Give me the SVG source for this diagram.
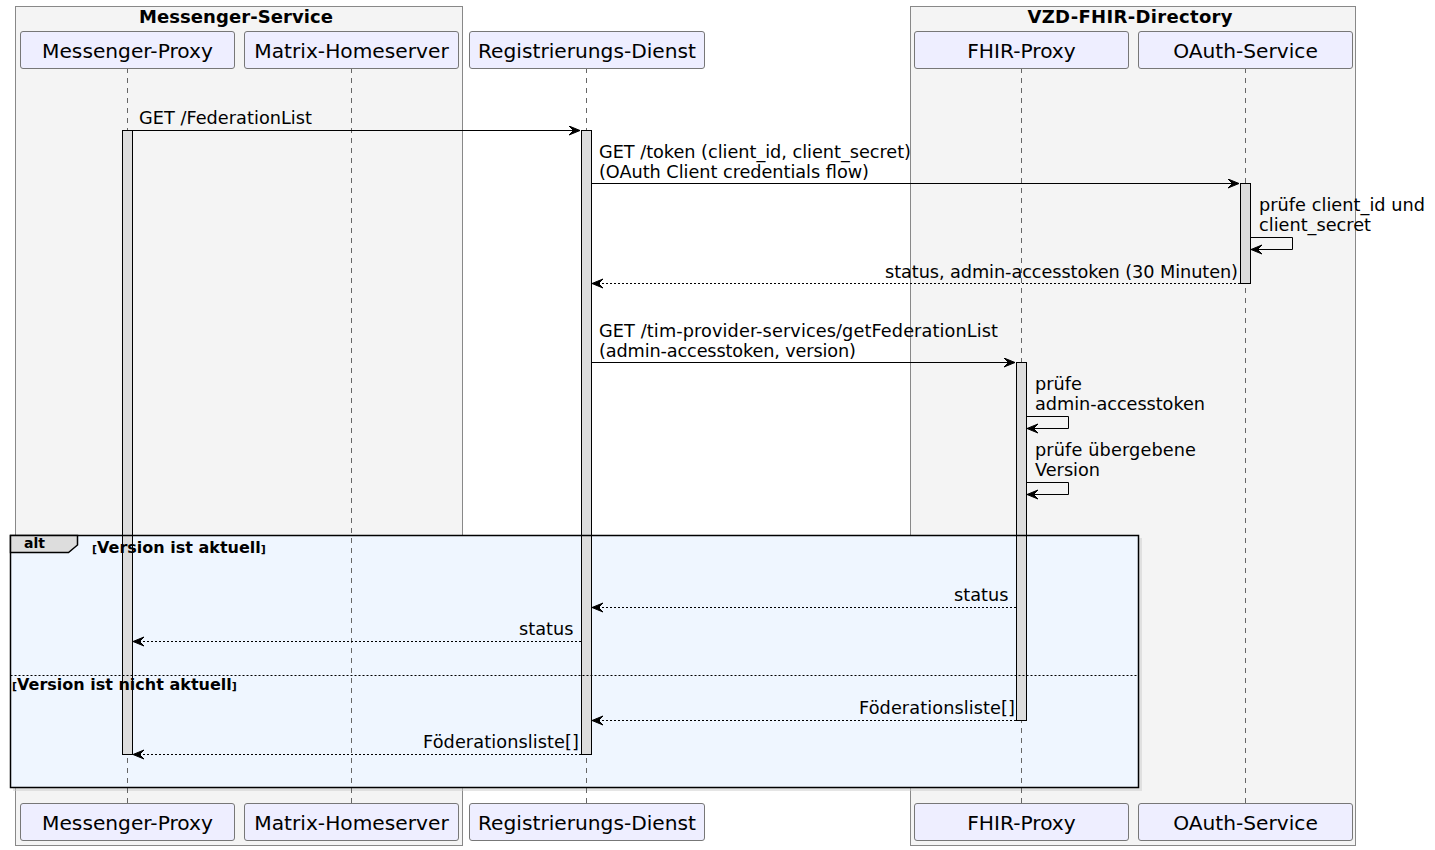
<svg xmlns="http://www.w3.org/2000/svg" width="1435" height="850" viewBox="0 0 1435 850">
<style>
.grp{fill:#F4F4F4;stroke:#888888;stroke-width:1}
.gt{font-family:"DejaVu Sans",sans-serif;font-size:18px;font-weight:bold;fill:#000;text-anchor:middle}
.pb{fill:#EEEEFF;stroke:#777777;stroke-width:1}
.pt{font-family:"DejaVu Sans",sans-serif;font-size:20.2px;fill:#000;text-anchor:middle}
.life{stroke:#666;stroke-width:1;stroke-dasharray:5,5;fill:none}
.act{fill:#DDDDDD;stroke:#000;stroke-width:1}
.msg{stroke:#000;stroke-width:1;fill:none}
.ret{stroke:#000;stroke-width:1;fill:none;stroke-dasharray:2,2}
.mt{font-family:"DejaVu Sans",sans-serif;font-size:17.7px;fill:#000}
.ft{font-family:"DejaVu Sans",sans-serif;font-weight:bold;fill:#000}
</style>
<defs>
<marker id="ah" markerUnits="userSpaceOnUse" markerWidth="13" markerHeight="11" refX="11" refY="5" orient="auto" viewBox="0 0 13 11">
<path d="M0,0.5 L11,5 L0,9.5 L4.5,5 Z" fill="#000" stroke="#000" stroke-width="1"/>
</marker>
</defs>

<g id="box-messenger-service">
<rect class="grp" x="15.5" y="6.5" width="447" height="839"/>
<text class="gt" x="236" y="23" textLength="194">Messenger-Service</text>
</g>
<g id="box-vzd-fhir-directory">
<rect class="grp" x="910.5" y="6.5" width="445" height="839"/>
<text class="gt" x="1130" y="23" textLength="205">VZD-FHIR-Directory</text>
</g>

<g id="alt-bg">
<rect x="13" y="538" width="1129" height="253" fill="#CCCCCC" opacity="0.5"/>
<rect x="10" y="535" width="1129" height="253" fill="#EFF6FF"/>
</g>

<g id="lifelines">
<line class="life" x1="127.5" y1="68" x2="127.5" y2="803"/>
<line class="life" x1="351.5" y1="68" x2="351.5" y2="803"/>
<line class="life" x1="586.5" y1="68" x2="586.5" y2="803"/>
<line class="life" x1="1021.5" y1="68" x2="1021.5" y2="803"/>
<line class="life" x1="1245.5" y1="68" x2="1245.5" y2="803"/>
</g>

<g id="p-messenger-proxy">
<rect class="pb" x="20.5" y="31.5" width="214" height="37" rx="2.5"/>
<text class="pt" x="127.5" y="58">Messenger-Proxy</text>
<rect class="pb" x="20.5" y="803.5" width="214" height="37" rx="2.5"/>
<text class="pt" x="127.5" y="830">Messenger-Proxy</text>
</g>
<g id="p-matrix-homeserver">
<rect class="pb" x="244.5" y="31.5" width="214" height="37" rx="2.5"/>
<text class="pt" x="351.5" y="58">Matrix-Homeserver</text>
<rect class="pb" x="244.5" y="803.5" width="214" height="37" rx="2.5"/>
<text class="pt" x="351.5" y="830">Matrix-Homeserver</text>
</g>
<g id="p-registrierungs-dienst">
<rect class="pb" x="469.5" y="31.5" width="235" height="37" rx="2.5"/>
<text class="pt" x="587" y="58">Registrierungs-Dienst</text>
<rect class="pb" x="469.5" y="803.5" width="235" height="37" rx="2.5"/>
<text class="pt" x="587" y="830">Registrierungs-Dienst</text>
</g>
<g id="p-fhir-proxy">
<rect class="pb" x="914.5" y="31.5" width="214" height="37" rx="2.5"/>
<text class="pt" x="1021.5" y="58">FHIR-Proxy</text>
<rect class="pb" x="914.5" y="803.5" width="214" height="37" rx="2.5"/>
<text class="pt" x="1021.5" y="830">FHIR-Proxy</text>
</g>
<g id="p-oauth-service">
<rect class="pb" x="1138.5" y="31.5" width="214" height="37" rx="2.5"/>
<text class="pt" x="1245.5" y="58">OAuth-Service</text>
<rect class="pb" x="1138.5" y="803.5" width="214" height="37" rx="2.5"/>
<text class="pt" x="1245.5" y="830">OAuth-Service</text>
</g>

<g id="activations">
<rect class="act" x="122.5" y="130.5" width="10" height="624"/>
<rect class="act" x="581.5" y="130.5" width="10" height="624"/>
<rect class="act" x="1240.5" y="183.5" width="10" height="100"/>
<rect class="act" x="1016.5" y="362.5" width="10" height="358"/>
</g>

<g id="connectors">
<line class="msg" x1="132" y1="130.5" x2="580" y2="130.5" marker-end="url(#ah)"/>
<line class="msg" x1="592" y1="183.5" x2="1239" y2="183.5" marker-end="url(#ah)"/>
<polyline class="msg" points="1251,237.5 1292.5,237.5 1292.5,249.5 1251,249.5" marker-end="url(#ah)"/>
<line class="ret" x1="1240" y1="283.5" x2="592" y2="283.5" marker-end="url(#ah)"/>
<line class="msg" x1="592" y1="362.5" x2="1015" y2="362.5" marker-end="url(#ah)"/>
<polyline class="msg" points="1027,416.5 1068.5,416.5 1068.5,428.5 1027,428.5" marker-end="url(#ah)"/>
<polyline class="msg" points="1027,482.5 1068.5,482.5 1068.5,494.5 1027,494.5" marker-end="url(#ah)"/>
<line class="ret" x1="1016" y1="607.5" x2="592" y2="607.5" marker-end="url(#ah)"/>
<line class="ret" x1="581" y1="641.5" x2="133" y2="641.5" marker-end="url(#ah)"/>
<line class="ret" x1="1016" y1="720.5" x2="592" y2="720.5" marker-end="url(#ah)"/>
<line class="ret" x1="581" y1="754.5" x2="133" y2="754.5" marker-end="url(#ah)"/>
</g>

<g id="labels">
<text class="mt" x="139" y="124" textLength="173">GET /FederationList</text>
<text class="mt" x="599" y="158" textLength="312">GET /token (client_id, client_secret)</text>
<text class="mt" x="599" y="178" textLength="270">(OAuth Client credentials flow)</text>
<text class="mt" x="1259" y="211" textLength="166">prüfe client_id und</text>
<text class="mt" x="1259" y="231">client_secret</text>
<text class="mt" x="885" y="278" textLength="353">status, admin-accesstoken (30 Minuten)</text>
<text class="mt" x="599" y="337" textLength="399">GET /tim-provider-services/getFederationList</text>
<text class="mt" x="599" y="357" textLength="257">(admin-accesstoken, version)</text>
<text class="mt" x="1035" y="390">prüfe</text>
<text class="mt" x="1035" y="410" textLength="170">admin-accesstoken</text>
<text class="mt" x="1035" y="456" textLength="161">prüfe übergebene</text>
<text class="mt" x="1035" y="476">Version</text>
<text class="mt" x="954" y="601">status</text>
<text class="mt" x="519" y="635">status</text>
<text class="mt" x="859" y="714" textLength="156">Föderationsliste[]</text>
<text class="mt" x="423" y="748" textLength="156">Föderationsliste[]</text>
</g>

<g id="alt-frame">
<rect x="10.5" y="535.5" width="1128" height="252" fill="none" stroke="#000" stroke-width="1.5"/>
<polygon points="10.5,535.5 77.5,535.5 77.5,545 68.5,552.5 10.5,552.5" fill="#DDDDDD" stroke="#000" stroke-width="1.5"/>
<text class="ft" x="24" y="548" font-size="14">alt</text>
<text class="ft" x="92" y="553" font-size="16"><tspan font-size="11">[</tspan>Version ist aktuell<tspan font-size="11">]</tspan></text>
<line x1="10.5" y1="675.5" x2="1138.5" y2="675.5" stroke="#000" stroke-width="1" stroke-dasharray="2,2"/>
<text class="ft" x="12" y="690" font-size="16"><tspan font-size="11">[</tspan>Version ist nicht aktuell<tspan font-size="11">]</tspan></text>
</g>
</svg>
